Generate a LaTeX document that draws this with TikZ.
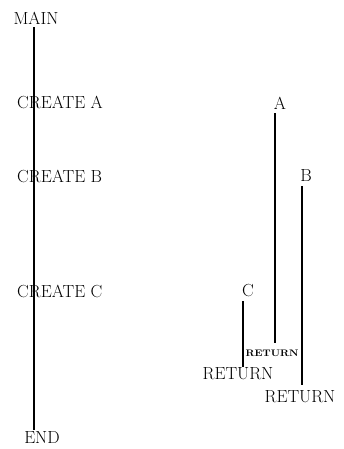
\documentclass[tikz,border=0pt]{standalone}
\begin{document}
\begin{tikzpicture}[x=1pt,y=-1pt,
  lbl/.style={inner sep=0pt,font=\fontsize{17.5}{20}\selectfont},
  smalllbl/.style={inner sep=0pt,font=\fontsize{9.5}{11}\selectfont\bfseries},
  life/.style={line width=1.6pt,line cap=butt}]
\useasboundingbox (0,0) rectangle (343,449);
% left column
\node[lbl] (main) at (36,18) {MAIN};
\node[lbl,anchor=west] (ca) at (17,102) {CREATE A};
\node[lbl,anchor=west] (cb) at (17,176) {CREATE B};
\node[lbl,anchor=west] (cc) at (17,291) {CREATE C};
\node[lbl] (endn) at (42,438) {END};
\coordinate (lx) at (34,0);
\draw[life] ([yshift=-3pt]main.south -| lx) -- ([yshift=2pt]endn.north -| lx);
% right side
\node[lbl] (a) at (280,103) {A};
\node[lbl] (b) at (306,176) {B};
\node[lbl] (c) at (248,291) {C};
\node[smalllbl] (rs) at (272,353) {\scalebox{1.1}[1]{RETURN}};
\node[lbl] (rc) at (238,374) {RETURN};
\node[lbl] (rb) at (300,397) {RETURN};
\coordinate (ax) at (275,0);
\coordinate (bx) at (302,0);
\coordinate (cx) at (243,0);
\draw[life] ([yshift=-4pt]a.south -| ax) -- ([yshift=6pt]rs.north -| ax);
\draw[life] ([yshift=-4pt]b.south -| bx) -- ([yshift=6pt]rb.north -| bx);
\draw[life] ([yshift=-4pt]c.south -| cx) -- ([yshift=1pt]rc.north -| cx);
\end{tikzpicture}
\end{document}
